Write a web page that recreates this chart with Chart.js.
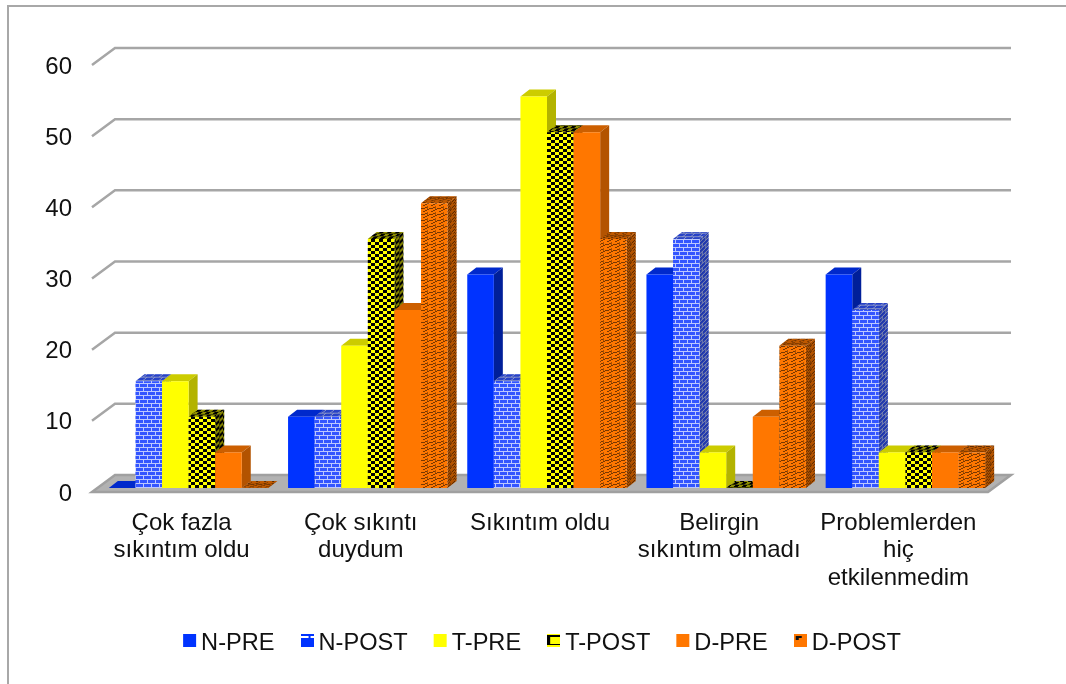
<!DOCTYPE html>
<html>
<head>
<meta charset="utf-8">
<script src="https://cdn.jsdelivr.net/npm/chart.js@4/dist/chart.umd.js"></script>
<style>
	html, body { margin: 0; padding: 0; background: #fff; overflow: hidden; }
	#frame { position: absolute; left: 7px; top: 5px; width: 1100px; height: 720px; border: 2px solid #a8a8a8; }
	#wrap { position: absolute; left: 0; top: 0; width: 1066px; height: 684px; }
</style>
</head>
<body>
<div id="frame"></div>
<div id="wrap"><canvas id="chart" width="1066" height="684"></canvas></div>
<script>
const categories = [
	['Çok fazla', 'sıkıntım oldu'],
	['Çok sıkıntı', 'duydum'],
	['Sıkıntım oldu'],
	['Belirgin', 'sıkıntım olmadı'],
	['Problemlerden', 'hiç', 'etkilenmedim'],
];
const seriesNames = ['N-PRE', 'N-POST', 'T-PRE', 'T-POST', 'D-PRE', 'D-POST'];
const nPre = [0, 10, 30, 30, 30];
const nPost = [15, 10, 15, 35, 25];
const tPre = [15, 20, 55, 5, 5];
const tPost = [10, 35, 50, 0, 5];
const dPre = [5, 25, 50, 10, 5];
const dPost = [0, 40, 35, 20, 5];

const FONT_FAMILY = '"Liberation Sans", Arial, sans-serif';

// 3d look: bars stand a little inside the floor, walls sit further back
const BAR_SHIFT = { x: 7, y: -4 };
const BAR_DEPTH = { x: 9, y: -7 };
const WALL = { x: 23, y: -17 };

const makeTile = (w, h, paint) => {
	const c = document.createElement('canvas');
	c.width = w;
	c.height = h;
	paint(c.getContext('2d'));
	return c;
};

const brickTile = makeTile(8, 8, (g) => {
	g.fillStyle = '#3355ff';
	g.fillRect(0, 0, 8, 8);
	g.fillStyle = '#bcc8ff';
	g.fillRect(0, 3, 8, 1);
	g.fillRect(0, 7, 8, 1);
	g.fillRect(0, 0, 1, 3);
	g.fillRect(4, 4, 1, 3);
});

const checkTile = makeTile(8, 6, (g) => {
	g.fillStyle = '#ffff00';
	g.fillRect(0, 0, 8, 6);
	g.fillStyle = '#000';
	g.fillRect(0, 0, 4, 3);
	g.fillRect(4, 3, 4, 3);
});

const shingleTile = makeTile(8, 6, (g) => {
	g.fillStyle = '#ff7700';
	g.fillRect(0, 0, 8, 6);
	g.fillStyle = '#7a3800';
	g.fillRect(0, 5, 2, 1);
	g.fillRect(2, 4, 2, 1);
	g.fillRect(4, 3, 2, 1);
	g.fillRect(6, 2, 2, 1);
	g.fillRect(0, 2, 2, 1);
	g.fillRect(2, 1, 2, 1);
	g.fillStyle = '#a85000';
	g.fillRect(4, 0, 1, 3);
});

// legend keys are too small to show the whole fill, only a scrap of it
const brickKey = makeTile(13, 13, (g) => {
	g.fillStyle = '#0033ff';
	g.fillRect(0, 0, 13, 13);
	g.fillStyle = '#fff';
	g.fillRect(0, 2, 13, 2);
	g.fillStyle = '#0033ff';
	g.fillRect(8, 2, 2, 2);
});
const checkKey = makeTile(13, 13, (g) => {
	g.fillStyle = '#ffff00';
	g.fillRect(0, 0, 13, 13);
	g.fillStyle = '#000';
	g.fillRect(0, 1, 13, 2);
	g.fillRect(0, 1, 3, 10);
	g.fillRect(0, 10, 13, 1);
});
const shingleKey = makeTile(13, 13, (g) => {
	g.fillStyle = '#ff7700';
	g.fillRect(0, 0, 13, 13);
	g.fillStyle = '#111';
	g.fillRect(2, 2, 6, 2);
	g.fillRect(2, 4, 3, 2);
});

const page = document.getElementById('chart').getContext('2d');
const fills = [
	'#0033ff',
	page.createPattern(brickTile, 'repeat'),
	'#ffff00',
	page.createPattern(checkTile, 'repeat'),
	'#ff7700',
	page.createPattern(shingleTile, 'repeat'),
];
const legendKeys = ['#0033ff', brickKey, '#ffff00', checkKey, '#ff7700', shingleKey];
const tiles = [null, brickTile, null, checkTile, null, shingleTile];
// top face, side face of the plain colours, shades over the patterned ones
const topColors = ['#0029cc', 'rgba(0,0,0,0.22)', '#cccc00', 'rgba(0,0,0,0.45)', '#cc5f00', 'rgba(0,0,0,0.25)'];
const sideColors = ['#001f99', 'rgba(0,0,0,0.32)', '#b3b300', 'rgba(0,0,0,0.5)', '#b35300', 'rgba(0,0,0,0.3)'];

const facePattern = (tile, matrix) => {
	const p = page.createPattern(tile, 'repeat');
	p.setTransform(new DOMMatrix(matrix));
	return p;
};

const fillFace = (ctx, pts, style, shade) => {
	ctx.beginPath();
	pts.forEach((p, i) => (i ? ctx.lineTo(p[0], p[1]) : ctx.moveTo(p[0], p[1])));
	ctx.closePath();
	ctx.fillStyle = style;
	ctx.fill();
	if (shade) {
		ctx.fillStyle = shade;
		ctx.fill();
	}
};

const bar3d = {
	id: 'bar3d',
	beforeDatasetsDraw(chart) {
		const { ctx, chartArea: area, scales: { y } } = chart;

		// floor
		const bottom = y.getPixelForValue(0);
		ctx.beginPath();
		ctx.moveTo(area.left, bottom);
		ctx.lineTo(area.left + WALL.x, bottom + WALL.y);
		ctx.lineTo(area.right + WALL.x, bottom + WALL.y);
		ctx.lineTo(area.right, bottom);
		ctx.closePath();
		ctx.fillStyle = '#b2b2b2';
		ctx.fill();
		ctx.strokeStyle = '#a0a0a0';
		ctx.lineWidth = 2.5;
		ctx.stroke();

		// wall lines
		ctx.strokeStyle = '#a6a6a6';
		ctx.lineWidth = 2.5;
		y.ticks.forEach((t) => {
			if (t.value === 0) return;
			const py = y.getPixelForValue(t.value);
			ctx.beginPath();
			ctx.moveTo(area.left, py);
			ctx.lineTo(area.left + WALL.x, py + WALL.y);
			ctx.lineTo(area.right + WALL.x, py + WALL.y);
			ctx.stroke();
		});

		// datasets left to right, so every side face ends up under its neighbour
		chart.getSortedVisibleDatasetMetas().slice().sort((a, b) => a.index - b.index).forEach((meta) => {
			const i = meta.index;
			ctx.save();
			ctx.translate(BAR_SHIFT.x, BAR_SHIFT.y);
			meta.data.forEach((bar) => {
				const { x, y: top, base, width } = bar.getProps(['x', 'y', 'base', 'width']);
				const l = x - width / 2;
				const r = x + width / 2;
				const dx = BAR_DEPTH.x;
				const dy = BAR_DEPTH.y;
				const topFace = [[l, top], [l + dx, top + dy], [r + dx, top + dy], [r, top]];
				const sideFace = [[r, top], [r + dx, top + dy], [r + dx, base + dy], [r, base]];
				if (tiles[i]) {
					const skewTop = facePattern(tiles[i], [1, 0, -dx / 8, 0.9, 0, 0]);
					const skewSide = facePattern(tiles[i], [0.9, dy / 8, 0, 1, 0, 0]);
					fillFace(ctx, topFace, skewTop, topColors[i]);
					if (base !== top) fillFace(ctx, sideFace, skewSide, sideColors[i]);
				} else {
					fillFace(ctx, topFace, topColors[i]);
					if (base !== top) fillFace(ctx, sideFace, sideColors[i]);
				}
			});
			meta.controller.draw();
			ctx.restore();
		});
	},
	// all bars are already painted above
	beforeDatasetDraw() {
		return false;
	},
	afterDraw(chart) {
		const { ctx } = chart;
		ctx.save();
		ctx.font = '23.6px ' + FONT_FAMILY;
		ctx.textBaseline = 'alphabetic';
		ctx.textAlign = 'left';
		const keySize = 13;
		const keyGap = 5;
		const itemGap = 26;
		const widths = seriesNames.map((s) => ctx.measureText(s).width);
		const total = widths.reduce((a, b) => a + b, 0) + seriesNames.length * (keySize + keyGap) + (seriesNames.length - 1) * itemGap;
		let x = 542 - total / 2;
		seriesNames.forEach((name, i) => {
			const key = legendKeys[i];
			if (typeof key === 'string') {
				ctx.fillStyle = key;
				ctx.fillRect(x, 634, keySize, keySize);
			} else {
				ctx.drawImage(key, x, 634);
			}
			ctx.fillStyle = '#111';
			ctx.fillText(name, x + keySize + keyGap, 650);
			x += keySize + keyGap + widths[i] + itemGap;
		});
		ctx.restore();
	},
};

new Chart(page, {
	type: 'bar',
	data: {
		labels: categories,
		datasets: [nPre, nPost, tPre, tPost, dPre, dPost].map((values, i) => ({
			label: seriesNames[i],
			data: values,
			backgroundColor: fills[i],
			borderWidth: 0,
			categoryPercentage: 0.89,
			barPercentage: 1,
		})),
	},
	options: {
		responsive: false,
		animation: false,
		layout: { padding: { top: 65, right: 78, left: 0, bottom: 0 } },
		plugins: { legend: { display: false }, tooltip: { enabled: false } },
		scales: {
			x: {
				grid: { display: false },
				border: { display: false },
				afterFit: (scale) => { scale.height = 192; },
				ticks: {
					color: '#111',
					font: { family: FONT_FAMILY, size: 24, lineHeight: 1.16 },
					padding: 9,
					maxRotation: 0,
					autoSkip: false,
				},
			},
			y: {
				min: 0,
				max: 60,
				afterFit: (scale) => { scale.width = 92; },
				grid: { display: false },
				border: { display: false },
				ticks: {
					stepSize: 10,
					color: '#111',
					padding: 12,
					labelOffset: 2,
					font: { family: FONT_FAMILY, size: 24 },
				},
			},
		},
	},
	plugins: [bar3d],
});
</script>
</body>
</html>
